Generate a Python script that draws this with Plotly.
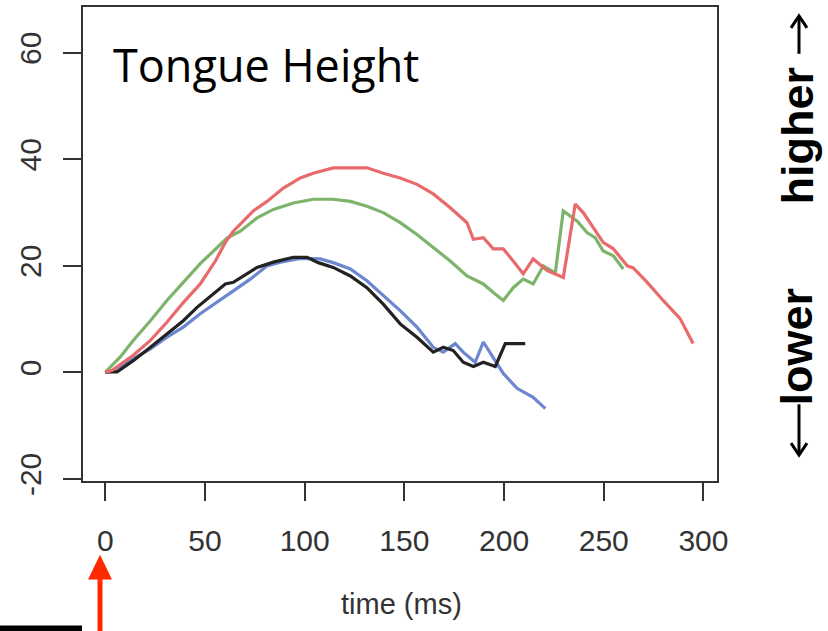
import plotly.graph_objects as go

# Tongue-height trajectories (time in ms, height in mm) for four tokens
red_t = [0, 3.4, 14, 22.6, 30.9, 39.1, 47.6, 55.2, 60.2, 64.2, 69.2, 74.2, 81.1, 89.3, 97.8,
         104.3, 114.3, 122.9, 131.2, 139.4, 147.9, 156.3, 164.5, 173, 181.4, 184.6, 189.6,
         194.6, 199.6, 204.6, 209.6, 214.6, 221.7, 229.7, 235.7, 239.7, 249.7, 254.8, 261.8,
         264.8, 271.8, 279.8, 288.3, 294.8]
red_v = [0, 0.4, 3.2, 6.0, 9.4, 13.1, 16.6, 20.9, 24.4, 26.5, 28.4, 30.3, 32.1, 34.6, 36.5,
         37.4, 38.4, 38.4, 38.4, 37.4, 36.5, 35.3, 33.5, 30.9, 28.1, 25.0, 25.3,
         23.2, 23.2, 20.9, 18.5, 21.3, 19.1, 17.8, 31.6, 30.0, 24.4, 23.2, 20.0,
         19.6, 16.9, 13.5, 10.1, 5.4]

green_t = [0, 0.9, 7.5, 14, 22.6, 30.9, 39.1, 47.6, 56, 61, 67.7, 76.1, 84.3, 94.3, 104.3,
           114.3, 122.9, 131.2, 139.4, 147.9, 156.3, 164.5, 173, 181.4, 189.6, 194.6, 199.6,
           204.6, 209.6, 214.6, 219.7, 225.7, 229.7, 236.7, 241.7, 245.7, 249.7, 254.8, 259.8]
green_v = [0, 0.4, 2.9, 6.0, 9.7, 13.5, 16.9, 20.4, 23.4, 25.2, 26.5, 29.0, 30.6, 31.8, 32.5,
           32.5, 32.1, 31.2, 30.0, 28.1, 25.9, 23.4, 20.9, 18.1, 16.6, 15.0, 13.5,
           15.9, 17.5, 16.6, 20.0, 18.7, 30.3, 28.4, 26.2, 25.3, 22.8, 21.9, 19.4]

blue_t = [0, 2.5, 14, 22.6, 30.9, 39.1, 47.6, 56, 64.2, 72.7, 81.1, 87.8, 97.8, 107.8,
          114.3, 122.9, 131.2, 141.3, 147.9, 156.3, 164.5, 169.5, 175.5, 179.5, 185.5,
          189.6, 195.6, 199.6, 206.5, 214.6, 220.7]
blue_v = [0, 0.1, 2.6, 4.4, 6.6, 8.5, 11.0, 13.1, 15.3, 17.5, 20.0, 20.7, 21.4, 21.3,
          20.6, 19.4, 17.2, 13.8, 11.6, 8.5, 4.7, 3.8, 5.4, 3.8, 1.9,
          5.7, 2.2, -0.2, -3.0, -4.7, -6.8]

black_t = [0, 1.7, 5.9, 14, 22.6, 30.9, 39.1, 46, 54.2, 60.2, 64.2, 69.2, 76.1, 84.3, 94.3,
           101.2, 106.8, 114.3, 122.9, 131.2, 139.4, 147.9, 156.3, 164.5, 169.5, 174.5,
           179.5, 184.6, 189.6, 195.6, 200.6, 210.6]
black_v = [0, 0.1, 0.1, 2.2, 4.7, 7.2, 9.7, 12.2, 14.7, 16.6, 16.9, 18.1, 19.7, 20.7, 21.6,
           21.6, 20.6, 19.7, 18.1, 15.9, 12.8, 9.1, 6.6, 3.8, 4.7, 4.1,
           1.9, 1.1, 1.9, 1.1, 5.4, 5.4]

x_ticks = [0, 50, 100, 150, 200, 250, 300]
y_ticks = [-20, 0, 20, 40, 60]
y_tick_text = ["-20", "0", "20", "40", "60"]

W, H = 828, 631
L, R, T, B = 83, 717, 5, 481  # plot area edges in pixels


def px(x):
    return (x - L) / (R - L)


def py(y):
    return (B - y) / (B - T)


AX = "#333333"
SANS = "Liberation Sans"

fig = go.Figure()
for t, v, c in [(blue_t, blue_v, "#6c86cf"), (black_t, black_v, "#222222"),
                (green_t, green_v, "#7db46b"), (red_t, red_v, "#e96a6c")]:
    fig.add_trace(go.Scatter(x=t, y=v, mode="lines", line=dict(color=c, width=3.2),
                             showlegend=False, hoverinfo="skip"))

fig.update_layout(
    width=W, height=H,
    margin=dict(l=L, r=W - R, t=T, b=H - B, pad=0),
    paper_bgcolor="white", plot_bgcolor="white",
    font=dict(family=SANS, color=AX),
    xaxis=dict(range=[-11.2, 306.8], tickvals=x_ticks, ticks="outside", ticklen=18,
               tickwidth=2, tickcolor=AX, showgrid=False, zeroline=False,
               showline=True, linecolor=AX, linewidth=2, mirror=True,
               tickfont=dict(family=SANS, size=30, color=AX), ticklabelstandoff=14),
    yaxis=dict(range=[-20.4, 68.6], tickvals=y_ticks, ticktext=y_tick_text,
               ticks="outside", ticklen=18,
               tickwidth=2, tickcolor=AX, showgrid=False, zeroline=False,
               showline=True, linecolor=AX, linewidth=2, mirror=True,
               tickangle=-90, tickfont=dict(family=SANS, size=30, color=AX),
               ticklabelstandoff=10),
)

annotations = [
    dict(text="Tongue Height", x=px(111), y=py(63), xanchor="left", yanchor="middle",
         font=dict(family="Open Sans", size=45, color="black")),
    dict(text="time (ms)", x=px(401), y=py(605), xanchor="center", yanchor="middle",
         font=dict(family=SANS, size=29, color=AX)),
    dict(text="<b>higher</b>", x=px(797), y=py(134), xanchor="center", yanchor="middle",
         textangle=-90, font=dict(family=SANS, size=45, color="black")),
    dict(text="<b>lower</b>", x=px(797), y=py(346), xanchor="center", yanchor="middle",
         textangle=-90, font=dict(family=SANS, size=45, color="black")),
]
for a in annotations:
    a.update(xref="paper", yref="paper", showarrow=False)
fig.update_layout(annotations=annotations)

# direction arrows beside the labels, marker bar and red pointer beneath the time origin
ARW = dict(color="black", width=3)
shapes = [
    dict(type="path", path=f"M {px(799)} {py(52)} L {px(799)} {py(14)}", line=ARW),
    dict(type="path",
         path=f"M {px(791)} {py(26)} L {px(799)} {py(14)} L {px(807)} {py(26)}", line=ARW),
    dict(type="path", path=f"M {px(799)} {py(404)} L {px(799)} {py(455)}", line=ARW),
    dict(type="path",
         path=f"M {px(791)} {py(443)} L {px(799)} {py(455)} L {px(807)} {py(443)}", line=ARW),
    dict(type="rect", x0=px(0), x1=px(82), y0=py(626), y1=py(632),
         fillcolor="black", line=dict(width=0)),
    dict(type="rect", x0=px(97.5), x1=px(102.5), y0=py(578), y1=py(632),
         fillcolor="#ff2a00", line=dict(width=0)),
    dict(type="path",
         path=f"M {px(88)} {py(580)} L {px(112)} {py(580)} L {px(100)} {py(555)} Z",
         fillcolor="#ff2a00", line=dict(width=0)),
]
for s in shapes:
    s.update(xref="paper", yref="paper")
fig.update_layout(shapes=shapes)

fig.write_html("out.html")
